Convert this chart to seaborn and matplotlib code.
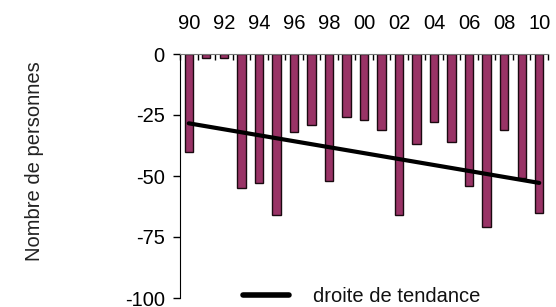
import numpy as np
import matplotlib
matplotlib.use("Agg")
import matplotlib.pyplot as plt
from matplotlib.lines import Line2D
import seaborn as sns

# Data
years = list(range(1990, 2011))
values = [-40, -1.5, -1.5, -55, -53, -66, -32, -29, -52, -26, -27,
          -31, -66, -37, -28, -36, -54, -71, -31, -51, -65]
tick_years = list(range(1990, 2011, 2))
tick_labels = ["90", "92", "94", "96", "98", "00", "02", "04", "06", "08", "10"]
y_ticks = [0, -25, -50, -75, -100]

sns.set_style("ticks")
plt.rcParams["font.family"] = ["Liberation Sans", "DejaVu Sans"]
plt.rcParams["text.color"] = "#111111"
plt.rcParams["axes.unicode_minus"] = False

fig = plt.figure(figsize=(5.56, 3.07), dpi=100)
ax = fig.add_axes([180 / 556, 1 - 298 / 307, (548 - 180) / 556, (298 - 54) / 307])

# Bars
sns.barplot(x=years, y=values, native_scale=True, width=0.48,
            color="#993366", saturation=1, edgecolor="#1a0a10",
            linewidth=1, ax=ax)

# Linear trend line
coef = np.polyfit(years, values, 1)
trend_x = [years[0], years[-1]]
trend_y = np.polyval(coef, trend_x)
sns.lineplot(x=trend_x, y=trend_y, color="black", linewidth=3, ax=ax, legend=False)

ax.set_xlim(1989.5, 2010.5)
ax.set_ylim(-100, 0)

# x axis on top, labels every two years, small ticks between bars
ax.xaxis.tick_top()
ax.set_xticks(tick_years)
ax.set_xticklabels(tick_labels)
ax.set_xticks(np.arange(1989.5, 2011, 1), minor=True)
ax.tick_params(axis="x", which="major", length=0, pad=15, labelsize=14.5,
               labelcolor="black")
ax.tick_params(axis="x", which="minor", direction="in", length=4,
               width=1, color="black", top=True, bottom=False)

ax.set_yticks(y_ticks)
ax.tick_params(axis="y", left=True, direction="out", length=5, width=1,
               pad=6, labelsize=14.5, color="black", labelcolor="black")

for side in ["right", "bottom"]:
    ax.spines[side].set_visible(False)
ax.spines["top"].set_color("#777777")
ax.spines["left"].set_color("black")
ax.set_xlabel("")
ax.set_ylabel("")

fig.text(35 / 556, 1 - 161 / 307, "Nombre de personnes", rotation=90,
         ha="center", va="center", fontsize=14.5, color="#222222")

fig.legend(handles=[Line2D([], [], color="black", linewidth=4)],
           labels=["droite de tendance"], loc="center left",
           bbox_to_anchor=(243 / 556, 1 - 297 / 307), frameon=False,
           borderpad=0, borderaxespad=0, handlelength=2.3,
           handletextpad=1.2, fontsize=14.5)

fig.savefig("out.png", dpi=100)
